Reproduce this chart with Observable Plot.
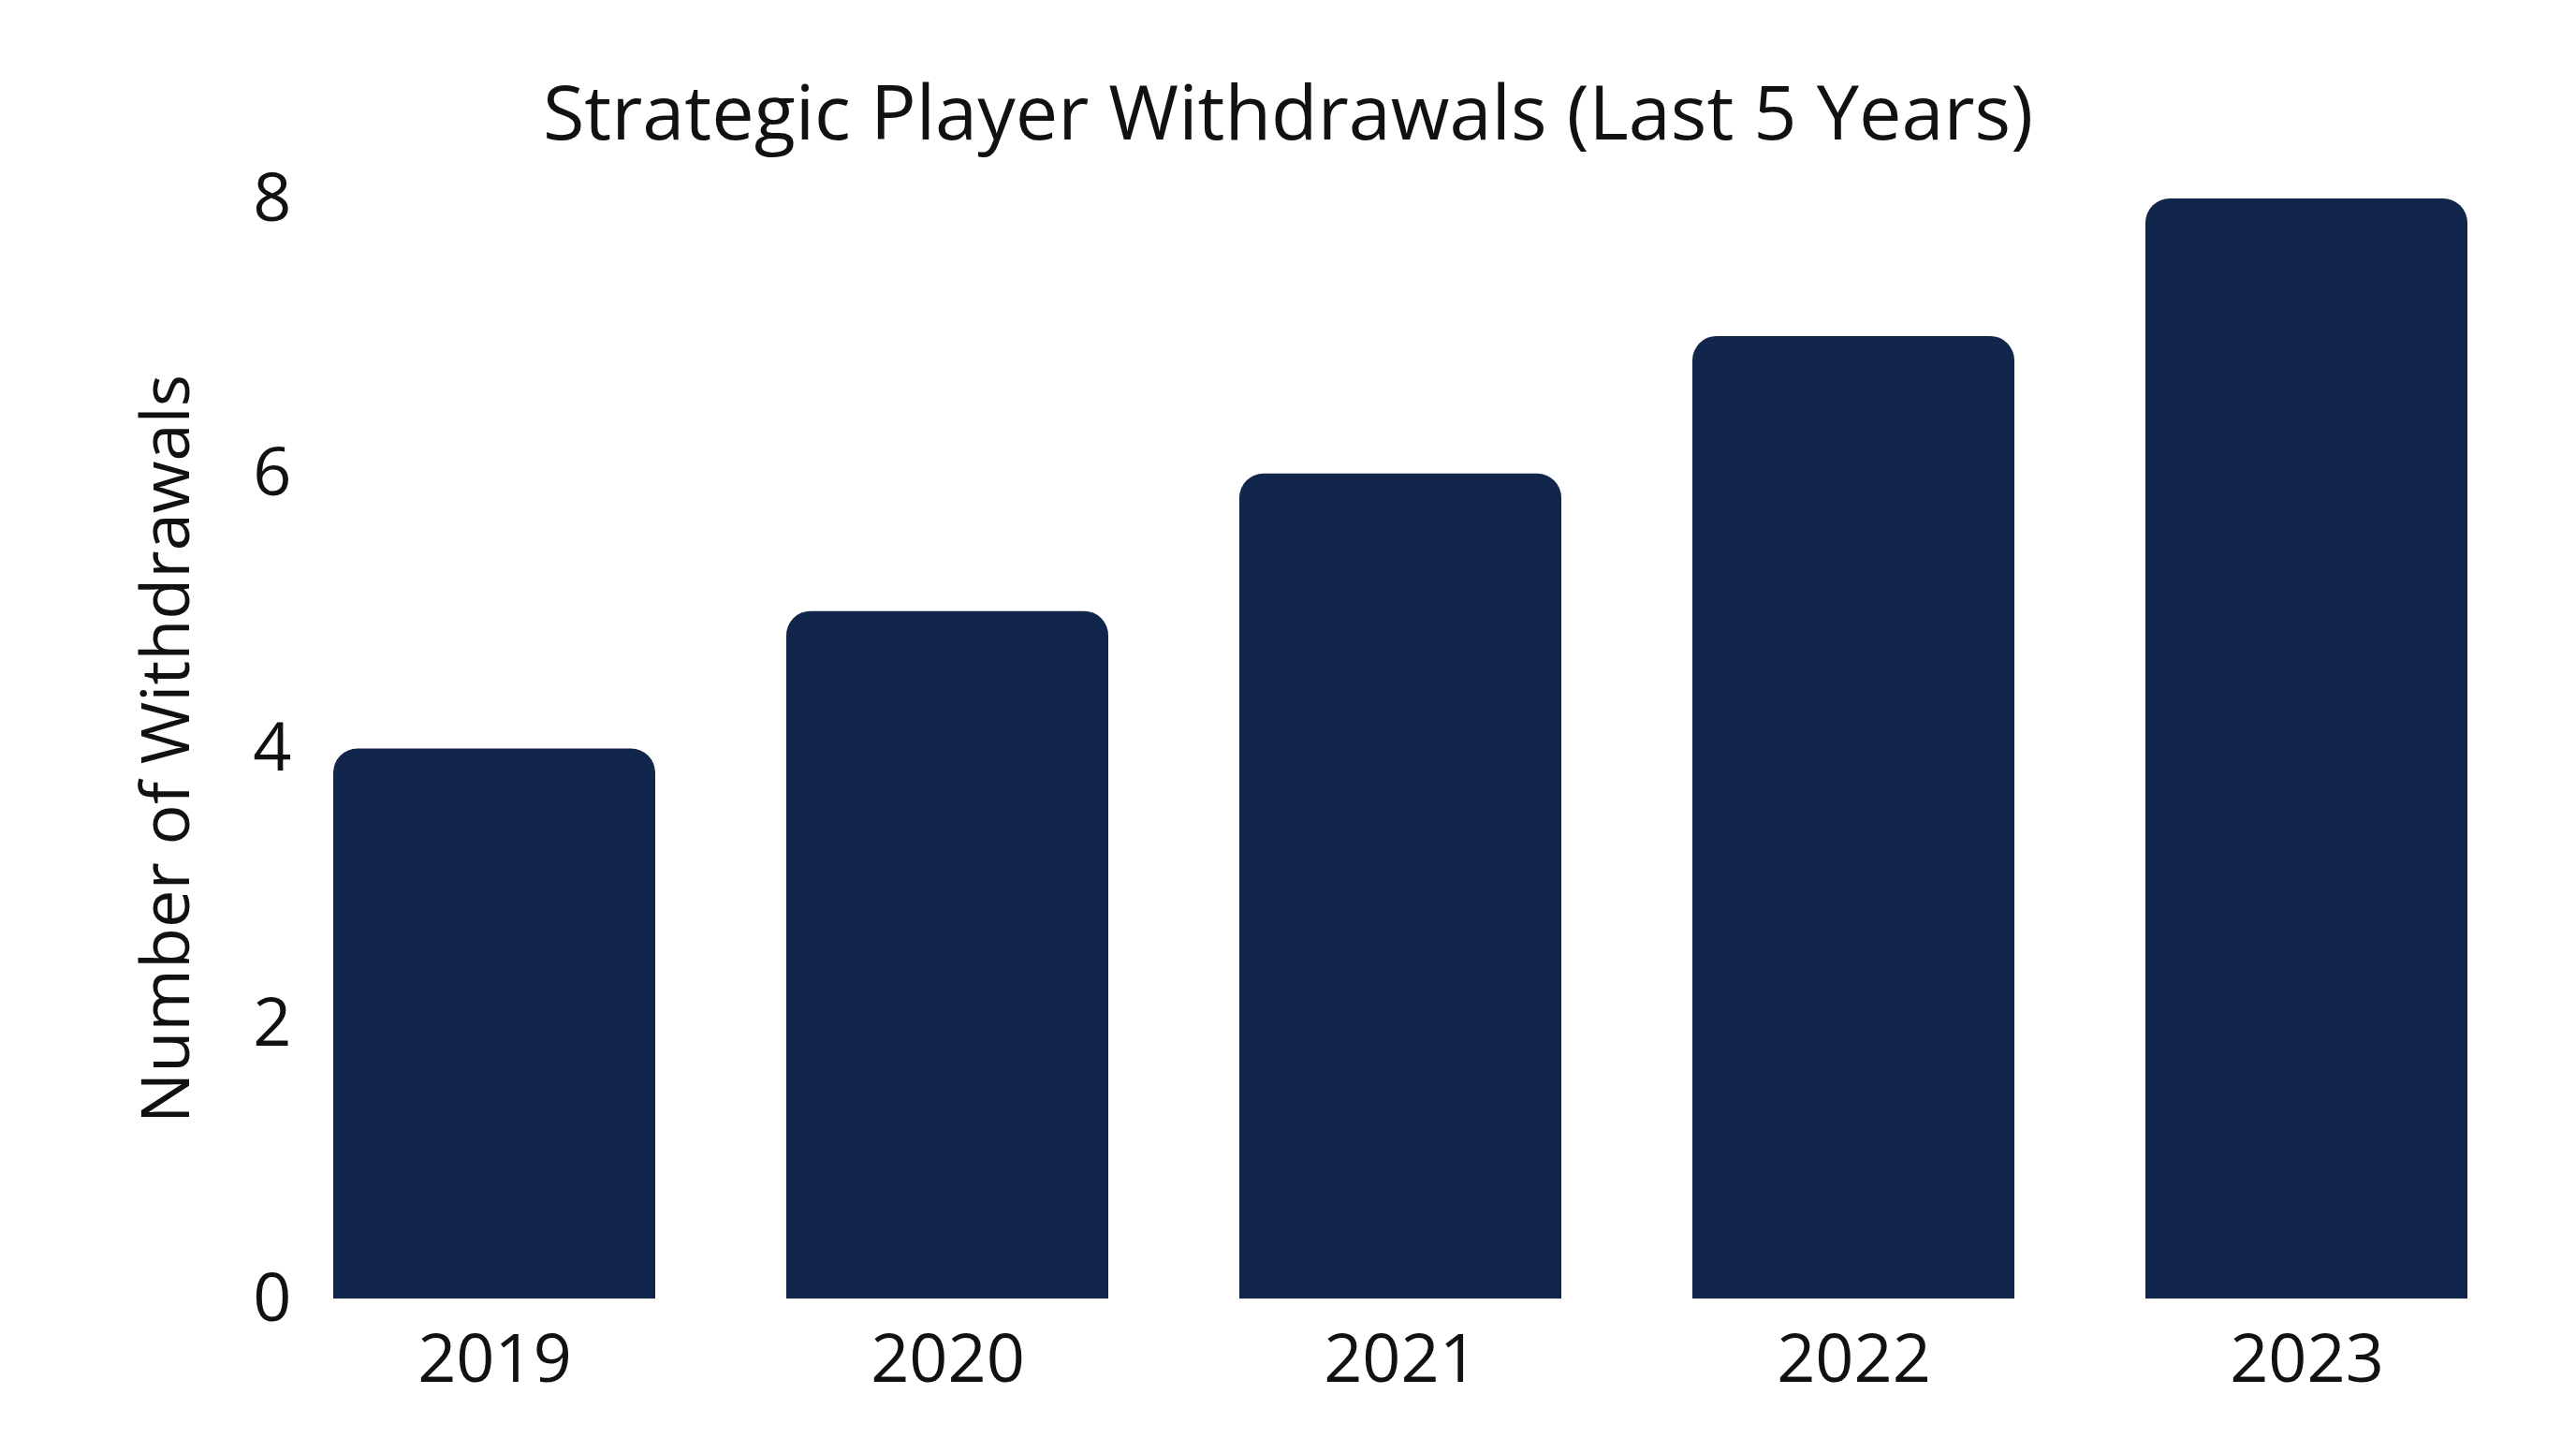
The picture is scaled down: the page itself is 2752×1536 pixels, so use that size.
<!DOCTYPE html>
<html>
<head>
<meta charset="utf-8">
<script src="https://cdn.jsdelivr.net/npm/d3@7"></script>
<script src="https://cdn.jsdelivr.net/npm/@observablehq/plot@0.6"></script>
<style>
  html, body { margin: 0; padding: 0; background: #ffffff; }
  #title {
    width: 2752px; height: 80px; padding-top: 70px;
    font-family: "Open Sans", sans-serif; font-size: 81px; line-height: 96px;
    text-align: center; color: #111111; white-space: nowrap;
  }
  svg { display: block; overflow: visible; }
</style>
</head>
<body>
<div id="title">Strategic Player Withdrawals (Last 5 Years)</div>
<div id="chart"></div>
<script>
const years = ["2019", "2020", "2021", "2022", "2023"];
const withdrawals = [4, 5, 6, 7, 8];
const yTicks = [0, 2, 4, 6, 8];

const data = years.map((year, i) => ({year, value: withdrawals[i]}));

const chart = Plot.plot({
  width: 2752,
  height: 1386,
  marginTop: 62,
  marginBottom: 149,
  marginLeft: 356,
  marginRight: 116,
  style: {fontFamily: "Open Sans, sans-serif", fontSize: "72px", color: "#111111", background: "#ffffff", overflow: "visible"},
  x: {domain: years, paddingInner: 0.29, paddingOuter: 0, label: null, tickSize: 0, tickPadding: 37},
  y: {domain: [0, 8], ticks: yTicks, tickSize: 0, tickPadding: 45, label: "Number of Withdrawals",
      labelAnchor: "center", labelArrow: "none", labelOffset: 206},
  marks: [
    Plot.barY(data, {x: "year", y: "value", fill: "#12254b", ry1: 26})
  ]
});
document.getElementById("chart").appendChild(chart);
</script>
</body>
</html>
